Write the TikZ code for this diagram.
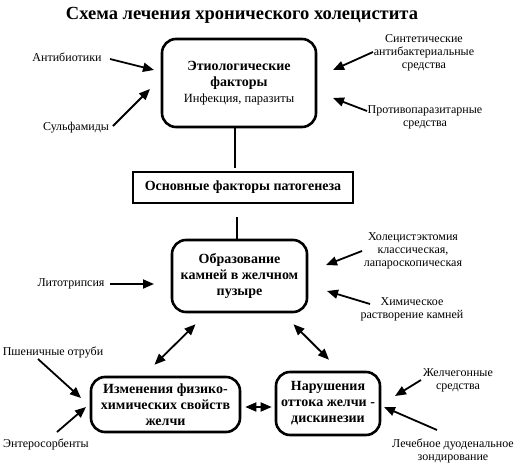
\documentclass[tikz,border=0pt]{standalone}
\usepackage{fontspec}
\setmainfont{Liberation Serif}
\usetikzlibrary{arrows.meta}
\tikzset{
  bigbox/.style={draw, line width=2.6pt, rounded corners=14pt, align=center, font=\fontsize{14}{16}\selectfont\bfseries, inner sep=0pt},
  sqbox/.style={draw, line width=2.6pt, align=center, font=\fontsize{14}{16}\selectfont\bfseries, inner sep=0pt},
  lab/.style={align=center, font=\fontsize{12}{13}\selectfont, inner sep=0pt},
  arr/.style={line width=1.8pt, -{Triangle[length=11pt,width=9pt]}},
  darr/.style={line width=1.8pt, {Triangle[length=11pt,width=9pt]}-{Triangle[length=11pt,width=9pt]}},
  conn/.style={line width=2pt}
}
\begin{document}
\begin{tikzpicture}[x=1pt,y=-1pt]
\useasboundingbox (0,0) rectangle (528,466);
\node[font=\fontsize{18.5}{20}\selectfont\bfseries] (title) at (242,15) {Схема лечения хронического холецистита};

% boxes
\node[bigbox, minimum width=154pt, minimum height=88pt] (b1) at (239,83) {Этиологические\\факторы\\{\mdseries\fontsize{12.5}{15}\selectfont Инфекция, паразиты}};
\node[sqbox, minimum width=220pt, minimum height=31pt] (b2) at (243,187.5) {Основные факторы патогенеза};
\node[bigbox, minimum width=135pt, minimum height=72pt] (b3) at (239.5,276) {Образование\\камней в желчном\\пузыре};
\node[bigbox, minimum width=149pt, minimum height=55pt] (b4) at (165.5,404.5) {Изменения физико-\\химических свойств\\желчи};
\node[bigbox, minimum width=104pt, minimum height=63pt] (b5) at (328,403.5) {Нарушения\\оттока желчи -\\дискинезии};

% main connectors
\draw[conn] ([xshift=-4pt]b1.south) -- ([xshift=-8pt,yshift=3pt]b2.north);
\draw[conn] ([xshift=-6pt,yshift=-13pt]b2.south) -- ([xshift=-2.5pt]b3.north);

% labels
\node[lab] (l1) at (67,57) {Антибиотики};
\node[lab] (l2) at (76,128) {Сульфамиды};
\node[lab] (l3) at (424,53) {Синтетические\\антибактериальные\\средства};
\node[lab] (l4) at (425,117) {Противопаразитарные\\средства};
\node[lab] (l5) at (71,284) {Литотрипсия};
\node[lab] (l6) at (413,251) {Холецистэктомия\\классическая,\\лапароскопическая};
\node[lab] (l7) at (412,309) {Химическое\\растворение камней};
\node[lab] (l8) at (53,352) {Пшеничные отруби};
\node[lab] (l9) at (46,444) {Энтеросорбенты};
\node[lab] (l10) at (458,380) {Желчегонные\\средства};
\node[lab] (l11) at (453,451) {Лечебное дуоденальное\\зондирование};

% arrow coordinates
\coordinate (a1s) at (110,59);  \coordinate (a1e) at (154,70);
\coordinate (a2s) at (113,126); \coordinate (a2e) at (150,89);
\coordinate (a3s) at (373,52);  \coordinate (a3e) at (333,70);
\coordinate (a4s) at (367,111); \coordinate (a4e) at (333,98);
\coordinate (a5s) at (110,284); \coordinate (a5e) at (154,284);
\coordinate (a6s) at (362,251); \coordinate (a6e) at (326,265);
\coordinate (a7s) at (370,304); \coordinate (a7e) at (327,291);
\coordinate (a8s) at (38,359);  \coordinate (a8e) at (81,398);
\coordinate (a9s) at (57,432);  \coordinate (a9e) at (86,407);
\coordinate (a10s) at (421,380); \coordinate (a10e) at (395,396);
\coordinate (a11s) at (437,430); \coordinate (a11e) at (384,407);

\draw[arr] (a1s) -- (a1e);
\draw[arr] (a2s) -- (a2e);
\draw[arr] (a3s) -- (a3e);
\draw[arr] (a4s) -- (a4e);
\draw[arr] (a5s) -- (a5e);
\draw[arr] (a6s) -- (a6e);
\draw[arr] (a7s) -- (a7e);
\draw[arr] (a8s) -- (a8e);
\draw[arr] (a9s) -- (a9e);
\draw[arr] (a10s) -- (a10e);
\draw[arr] (a11s) -- (a11e);

% double arrows between boxes
\draw[darr] ([xshift=-44pt,yshift=-11pt]b3.south) -- ([xshift=-11pt,yshift=11pt]b4.north);
\draw[darr] ([xshift=54pt,yshift=-11pt]b3.south) -- ([xshift=1pt,yshift=11pt]b5.north);
\draw[darr] ([xshift=4pt,yshift=-2.5pt]b4.east) -- ([xshift=-3pt,yshift=-3.5pt]b5.west);
\end{tikzpicture}
\end{document}
